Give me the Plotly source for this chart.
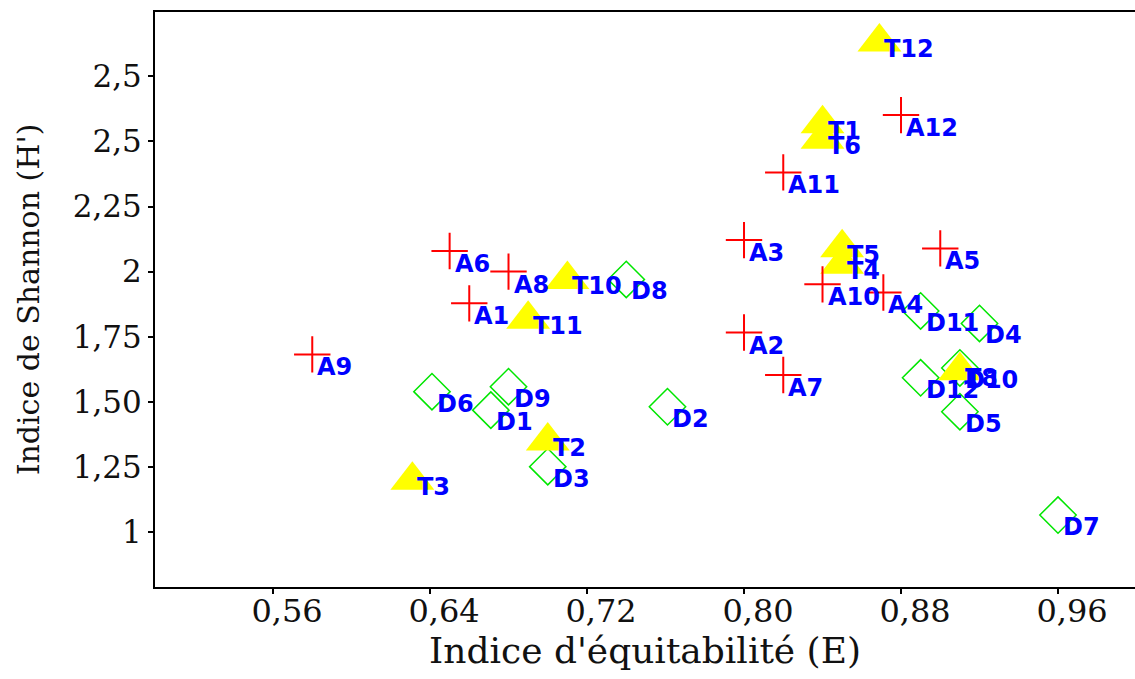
import plotly.graph_objects as go

# ---- data ----
a_names = ["A1", "A2", "A3", "A4", "A5", "A6", "A7", "A8", "A9", "A10", "A11", "A12"]
a_x = [0.660, 0.800, 0.800, 0.871, 0.900, 0.650, 0.820, 0.680, 0.580, 0.840, 0.820, 0.880]
a_y = [1.878, 1.766, 2.121, 1.920, 2.089, 2.079, 1.603, 2.000, 1.682, 1.951, 2.381, 2.601]

t_names = ["T1", "T2", "T3", "T4", "T5", "T6", "T8", "T10", "T11", "T12"]
t_x = [0.840, 0.700, 0.631, 0.850, 0.850, 0.840, 0.910, 0.710, 0.690, 0.869]
t_y = [2.568, 1.349, 1.199, 2.028, 2.092, 2.508, 1.619, 1.970, 1.817, 2.882]

d_names = ["D1", "D2", "D3", "D4", "D5", "D6", "D7", "D8", "D9", "D10", "D11", "D12"]
d_x = [0.671, 0.761, 0.700, 0.920, 0.910, 0.641, 0.960, 0.740, 0.680, 0.910, 0.890, 0.890]
d_y = [1.468, 1.481, 1.251, 1.801, 1.462, 1.539, 1.065, 1.970, 1.558, 1.630, 1.849, 1.592]

x_ticks = [0.56, 0.64, 0.72, 0.80, 0.88, 0.96]
x_tick_text = ["0,56", "0,64", "0,72", "0,80", "0,88", "0,96"]
y_ticks = [1.0, 1.25, 1.5, 1.75, 2.0, 2.25, 2.5, 2.75]
y_tick_text = ["1", "1,25", "1,50", "1,75", "2", "2,25", "2,5", "2,5"]

fig = go.Figure()
fig.add_trace(go.Scatter(x=d_x, y=d_y, mode="markers", hoverinfo="skip",
                         marker=dict(symbol="diamond-open", size=28, color="#00e600",
                                     line=dict(color="#00e600", width=1.5))))
fig.add_trace(go.Scatter(x=t_x, y=t_y, mode="markers", hoverinfo="skip",
                         marker=dict(symbol="triangle-up", size=38, color="#ffff00",
                                     line=dict(width=0))))
fig.add_trace(go.Scatter(x=a_x, y=a_y, mode="markers", hoverinfo="skip",
                         marker=dict(symbol="cross-thin-open", size=26, color="#ff0000",
                                     line=dict(color="#ff0000", width=2))))

lab_font = dict(family="DejaVu Sans", size=24, color="#0000ff", weight="bold")
annotations = []
for names, xs, ys, ysh in [(a_names, a_x, a_y, -13), (d_names, d_x, d_y, -12), (t_names, t_x, t_y, -7)]:
    for n, xv, yv in zip(names, xs, ys):
        annotations.append(dict(x=xv, y=yv, xref="x", yref="y", text=n, showarrow=False,
                                xanchor="left", yanchor="middle", xshift=3, yshift=ysh,
                                font=lab_font))

fig.update_layout(
    width=1135, height=679,
    margin=dict(l=155, r=0, t=12, b=92),
    paper_bgcolor="white", plot_bgcolor="white",
    showlegend=False,
    annotations=annotations,
    xaxis=dict(range=[0.49987, 0.99923], tickvals=x_ticks, ticktext=x_tick_text,
               showgrid=False, zeroline=False, showline=True, linecolor="black", linewidth=2,
               mirror=True, ticks="outside", ticklen=5, tickwidth=1.5, tickcolor="black",
               ticklabelstandoff=-10, ticklabelshift=14,
               tickfont=dict(family="DejaVu Serif", size=32, color="#111"),
               title=dict(text="Indice d'équitabilité (E)", standoff=6,
                          font=dict(family="DejaVu Serif", size=36, color="#111"))),
    yaxis=dict(range=[0.7888, 2.9969], tickvals=y_ticks, ticktext=y_tick_text,
               showgrid=False, zeroline=False, showline=True, linecolor="black", linewidth=2,
               mirror=False, ticks="outside", ticklen=5, tickwidth=1.5, tickcolor="black",
               tickfont=dict(family="DejaVu Serif", size=31, color="#111"),
               title=dict(text="Indice de Shannon (H')", standoff=24,
                          font=dict(family="DejaVu Serif", size=30, color="#111"))),
)

fig.write_html("out.html")
